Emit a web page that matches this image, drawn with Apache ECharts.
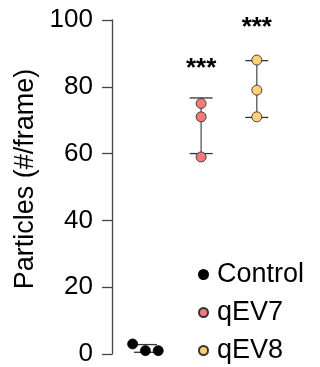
<!DOCTYPE html>
<html>
<head>
<meta charset="utf-8">
<script src="https://cdn.jsdelivr.net/npm/echarts@6/dist/echarts.min.js"></script>
<style>html,body{margin:0;padding:0;background:#fff}#c{width:320px;height:367px}</style>
</head>
<body>
<div id="c"></div>
<script>
var groups = ['Control', 'qEV7', 'qEV8'];
var groupX = [1, 2, 3];
var controlX = [0.77, 1.0, 1.23];
var controlY = [3, 1, 1];
var qev7X = [2, 2, 2];
var qev7Y = [75, 71, 59];
var qev8X = [3, 3, 3];
var qev8Y = [88, 79, 71];
var yTicks = [0, 20, 40, 60, 80, 100];
var sigLabels = ['', '***', '***'];
var sigY = [0, 85.4, 97.6];

var FONT = '"Liberation Sans", Arial, sans-serif';
function meanSd(a) {
  var m = a.reduce(function (s, v) { return s + v; }, 0) / a.length;
  var v = a.reduce(function (s, x) { return s + (x - m) * (x - m); }, 0) / (a.length - 1);
  return [m, Math.sqrt(v)];
}
var allY = [controlY, qev7Y, qev8Y];
var errData = allY.map(function (arr, i) {
  var ms = meanSd(arr);
  return [groupX[i], ms[0] - ms[1], ms[0] + ms[1]];
});
function pts(xs, ys) { return xs.map(function (x, i) { return [x, ys[i]]; }); }

var chart = echarts.init(document.getElementById('c'));
chart.setOption({
  animation: false,
  grid: { left: 112, top: 20, bottom: 11, width: 200.5, containLabel: false },
  xAxis: { type: 'value', min: 0.4, max: 4, show: false },
  yAxis: {
    type: 'value', min: 0, max: 100, interval: 20,
    name: 'Particles (#/frame)', nameLocation: 'middle', nameGap: 66,
    nameTextStyle: { fontFamily: FONT, fontSize: 27, color: '#000', padding: [0, 0, 0, 16] },
    axisLine: { show: true, lineStyle: { color: '#444', width: 1.3 } },
    axisTick: { show: true, length: 10, lineStyle: { color: '#444', width: 1.3 } },
    axisLabel: { fontFamily: FONT, fontSize: 26, color: '#000', margin: 19,
      formatter: function (v) { return yTicks.indexOf(v) >= 0 ? String(v) : ''; } },
    splitLine: { show: false }
  },
  legend: {
    orient: 'vertical', left: 193, top: 256, height: 130, itemGap: 11,
    icon: 'circle', itemWidth: 9, itemHeight: 9,
    textStyle: { fontFamily: FONT, fontSize: 27, color: '#000', padding: [0, 0, 0, 4] },
    data: groups
  },
  series: [
    {
      type: 'custom', name: 'err', silent: true, z: 1,
      data: errData,
      renderItem: function (params, api) {
        var x = api.value(0);
        var lo = api.coord([x, api.value(1)]);
        var hi = api.coord([x, api.value(2)]);
        var hw = 11.5;
        var st = { stroke: '#333', lineWidth: 1.3 };
        return { type: 'group', children: [
          { type: 'line', shape: { x1: lo[0], y1: lo[1], x2: hi[0], y2: hi[1] }, style: { stroke: '#555', lineWidth: 1.3 } },
          { type: 'line', shape: { x1: lo[0] - hw, y1: lo[1], x2: lo[0] + hw, y2: lo[1] }, style: st },
          { type: 'line', shape: { x1: hi[0] - hw, y1: hi[1], x2: hi[0] + hw, y2: hi[1] }, style: st }
        ] };
      }
    },
    {
      type: 'scatter', name: 'Control', z: 3, symbolSize: 10,
      itemStyle: { color: '#000', borderColor: '#000', borderWidth: 0.8, opacity: 1 },
      data: pts(controlX, controlY)
    },
    {
      type: 'scatter', name: 'qEV7', z: 3, symbolSize: 10,
      itemStyle: { color: '#F47A7A', borderColor: '#333', borderWidth: 0.9, opacity: 1 },
      data: pts(qev7X, qev7Y)
    },
    {
      type: 'scatter', name: 'qEV8', z: 3, symbolSize: 10,
      itemStyle: { color: '#FFD07A', borderColor: '#333', borderWidth: 0.9, opacity: 1 },
      data: pts(qev8X, qev8Y)
    },
    {
      type: 'scatter', name: 'sig', z: 4, symbolSize: 0, silent: true,
      itemStyle: { opacity: 1 },
      data: groupX.map(function (x, i) { return [x, sigY[i], sigLabels[i]]; }),
      label: { show: true, position: 'inside', fontFamily: FONT, fontSize: 26, fontWeight: 'bold', color: '#000',
        opacity: 1, textBorderWidth: 0,
        formatter: function (p) { return p.value[2]; } }
    }
  ]
});
</script>
</body>
</html>
